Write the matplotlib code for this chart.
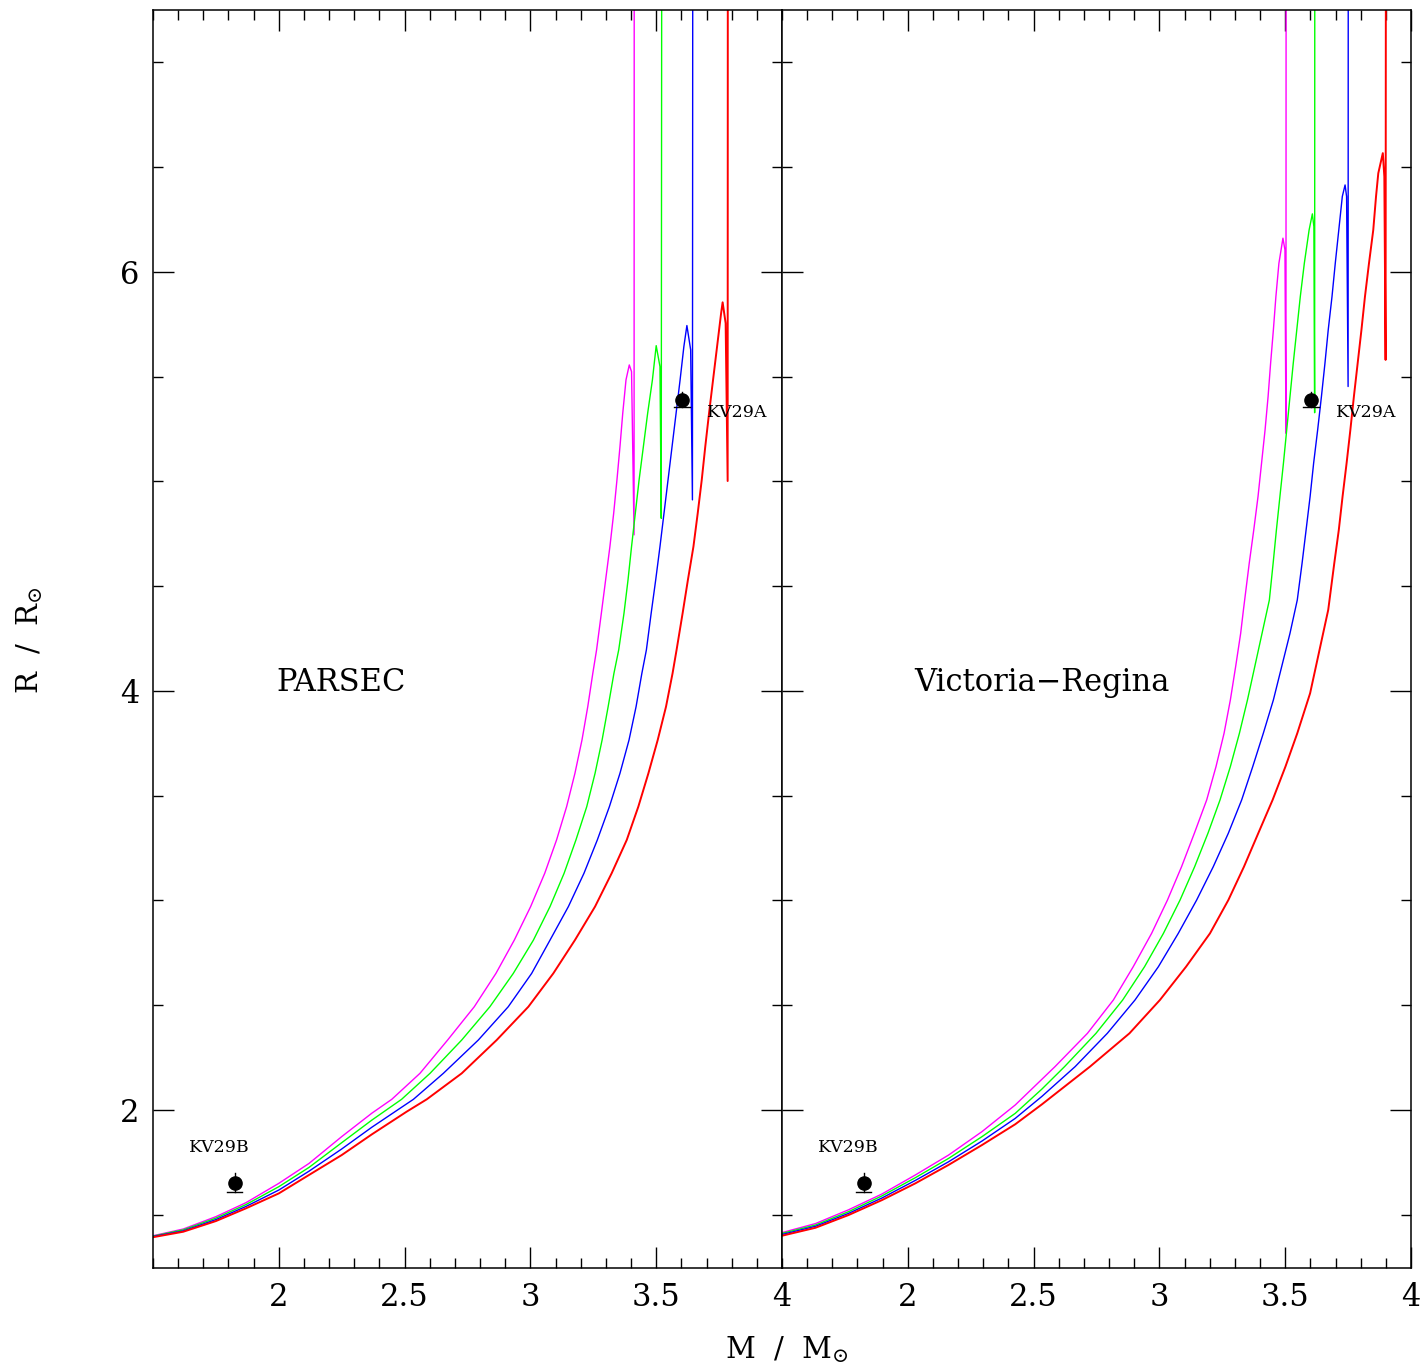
import matplotlib
matplotlib.use("Agg")
import matplotlib.pyplot as plt
from matplotlib.ticker import MultipleLocator, FixedLocator

plt.rcParams['font.family'] = ['DejaVu Serif', 'DejaVu Sans']
plt.rcParams['mathtext.fontset'] = 'dejavuserif'

# ---------------- data ----------------
TOP = 9.0  # giant-branch segments continue above the frame

# PARSEC isochrones (mass, radius)
par_mag_x = [1.50, 1.62, 1.75, 1.87, 2.00, 2.12, 2.25, 2.37,
             2.449, 2.561, 2.671, 2.777, 2.863, 2.936, 3.001, 3.057, 3.104, 3.144, 3.177, 3.205, 3.228, 3.248,
             3.263, 3.282, 3.299, 3.316, 3.331, 3.344, 3.356, 3.367, 3.380, 3.393,
             3.402, 3.412, 3.413]
par_mag_y = [1.400, 1.432, 1.491, 1.558, 1.650, 1.745, 1.873, 1.985,
             2.051, 2.175, 2.334, 2.493, 2.652, 2.811, 2.971, 3.130, 3.289, 3.448, 3.607, 3.766, 3.925, 4.084,
             4.196, 4.371, 4.530, 4.689, 4.848, 5.007, 5.166, 5.325, 5.485, 5.556,
             5.524, 4.745, TOP]
par_grn_x = [1.50, 1.62, 1.75, 1.87, 2.00, 2.12, 2.25, 2.37,
             2.488, 2.601, 2.727, 2.839, 2.932, 3.012, 3.078, 3.134, 3.181, 3.224, 3.257, 3.285, 3.309, 3.332,
             3.351, 3.372, 3.388, 3.402, 3.417, 3.432, 3.449, 3.466, 3.485, 3.500,
             3.515, 3.520, 3.523]
par_grn_y = [1.398, 1.428, 1.484, 1.549, 1.634, 1.726, 1.844, 1.952,
             2.051, 2.175, 2.334, 2.493, 2.652, 2.811, 2.971, 3.130, 3.289, 3.448, 3.607, 3.766, 3.925, 4.084,
             4.196, 4.371, 4.530, 4.689, 4.848, 5.007, 5.166, 5.325, 5.485, 5.648,
             5.548, 4.824, TOP]
par_blu_x = [1.50, 1.62, 1.75, 1.87, 2.00, 2.12, 2.25, 2.37,
             2.535, 2.654, 2.793, 2.912, 3.005, 3.078, 3.151, 3.213, 3.266, 3.314, 3.356, 3.392, 3.420, 3.443,
             3.461, 3.480, 3.498, 3.515, 3.531, 3.547, 3.563, 3.579, 3.595, 3.610, 3.622,
             3.637, 3.644, 3.646]
par_blu_y = [1.396, 1.423, 1.477, 1.540, 1.618, 1.708, 1.814, 1.918,
             2.051, 2.175, 2.334, 2.493, 2.652, 2.811, 2.971, 3.130, 3.289, 3.448, 3.607, 3.766, 3.925, 4.084,
             4.196, 4.371, 4.530, 4.689, 4.848, 5.007, 5.166, 5.325, 5.485, 5.644, 5.744,
             5.628, 4.912, TOP]
par_red_x = [1.50, 1.62, 1.75, 1.87, 2.00, 2.12, 2.25, 2.37, 2.508,
             2.588, 2.727, 2.866, 2.992, 3.091, 3.177, 3.257, 3.323, 3.383, 3.429, 3.469, 3.506, 3.539, 3.565,
             3.581, 3.605, 3.626, 3.648, 3.665, 3.681, 3.695, 3.710, 3.726, 3.742, 3.758, 3.764,
             3.776, 3.784, 3.785]
par_red_y = [1.393, 1.419, 1.470, 1.531, 1.602, 1.690, 1.785, 1.884, 1.992,
             2.051, 2.175, 2.334, 2.493, 2.652, 2.811, 2.971, 3.130, 3.289, 3.448, 3.607, 3.766, 3.925, 4.084,
             4.196, 4.371, 4.530, 4.689, 4.848, 5.007, 5.166, 5.325, 5.485, 5.644, 5.803, 5.855,
             5.755, 5.002, TOP]

# Victoria-Regina isochrones (mass, radius)
vr_mag_x = [1.500, 1.633, 1.765, 1.897, 2.030, 2.162, 2.295, 2.427,
            2.585, 2.714, 2.817, 2.896, 2.969, 3.032, 3.088, 3.139, 3.188, 3.225, 3.257, 3.282, 3.303, 3.323,
            3.334, 3.357, 3.375, 3.392, 3.406, 3.420, 3.432, 3.442, 3.453, 3.463, 3.475, 3.491,
            3.499, 3.503, 3.504]
vr_mag_y = [1.415, 1.458, 1.524, 1.599, 1.690, 1.785, 1.897, 2.024,
            2.207, 2.366, 2.525, 2.684, 2.843, 3.002, 3.161, 3.321, 3.480, 3.639, 3.798, 3.957, 4.116, 4.275,
            4.387, 4.609, 4.768, 4.928, 5.087, 5.246, 5.405, 5.564, 5.723, 5.882, 6.041, 6.161,
            6.105, 5.230, TOP]
vr_grn_x = [1.500, 1.633, 1.765, 1.897, 2.030, 2.162, 2.295, 2.427, 2.533,
            2.623, 2.748, 2.854, 2.941, 3.016, 3.082, 3.140, 3.193, 3.241, 3.282, 3.318, 3.350, 3.379, 3.408, 3.437,
            3.452, 3.465, 3.479, 3.493, 3.506, 3.519, 3.532, 3.546, 3.560, 3.576, 3.595, 3.608,
            3.614, 3.617, 3.618]
vr_grn_y = [1.411, 1.451, 1.515, 1.590, 1.677, 1.769, 1.873, 1.984, 2.100,
            2.207, 2.366, 2.525, 2.684, 2.843, 3.002, 3.161, 3.321, 3.480, 3.639, 3.798, 3.957, 4.116, 4.275, 4.434,
            4.609, 4.768, 4.928, 5.087, 5.246, 5.405, 5.564, 5.723, 5.882, 6.041, 6.200, 6.277,
            6.216, 5.328, TOP]
vr_blu_x = [1.500, 1.633, 1.765, 1.897, 2.030, 2.162, 2.295, 2.427, 2.533,
            2.665, 2.793, 2.903, 2.996, 3.075, 3.148, 3.214, 3.274, 3.327, 3.371, 3.413, 3.453, 3.486, 3.519, 3.548,
            3.567, 3.583, 3.599, 3.613, 3.629, 3.644, 3.658, 3.671, 3.686, 3.699, 3.713, 3.727, 3.738,
            3.744, 3.750, 3.751]
vr_blu_y = [1.406, 1.445, 1.507, 1.580, 1.664, 1.753, 1.852, 1.960, 2.065,
            2.207, 2.366, 2.525, 2.684, 2.843, 3.002, 3.161, 3.321, 3.480, 3.639, 3.798, 3.957, 4.116, 4.275, 4.434,
            4.609, 4.768, 4.928, 5.087, 5.246, 5.405, 5.564, 5.723, 5.882, 6.041, 6.200, 6.360, 6.415,
            6.360, 5.453, TOP]
vr_red_x = [1.500, 1.633, 1.765, 1.897, 2.030, 2.162, 2.295, 2.427, 2.533,
            2.724, 2.881, 3.002, 3.106, 3.201, 3.274, 3.336, 3.393, 3.450, 3.501, 3.548, 3.599,
            3.671, 3.695, 3.713, 3.728, 3.744, 3.759, 3.773, 3.788, 3.803, 3.817, 3.833, 3.850, 3.861, 3.870, 3.888,
            3.894, 3.899, 3.901]
vr_red_y = [1.400, 1.438, 1.499, 1.570, 1.650, 1.738, 1.833, 1.932, 2.027,
            2.207, 2.366, 2.525, 2.684, 2.843, 3.002, 3.161, 3.321, 3.480, 3.639, 3.798, 3.989,
            4.387, 4.609, 4.768, 4.928, 5.087, 5.246, 5.405, 5.564, 5.723, 5.882, 6.041, 6.200, 6.360, 6.471, 6.567,
            6.455, 5.580, TOP]

# binary components KV29A / KV29B
star_names = ["KV29A", "KV29B"]
star_mass = [3.603, 1.824]
star_mass_err = [0.033, 0.030]
star_radius = [5.390, 1.653]
star_radius_err = [0.037, 0.045]

panel_titles = ["PARSEC", "Victoria\u2212Regina"]
x_tick_values = [2, 2.5, 3, 3.5, 4]
x_tick_labels = ["2", "2.5", "3", "3.5", "4"]
y_tick_values = [2, 4, 6]
y_tick_labels = ["2", "4", "6"]

colors = ['#ff00ff', '#00ff00', '#0000ff', '#ff0000']
widths = [1.0, 1.0, 1.0, 1.4]

# ---------------- figure ----------------
W, H = 1423, 1372
fig = plt.figure(figsize=(W / 100, H / 100), dpi=100)
ax1 = fig.add_axes([153 / W, 104 / H, 629 / W, 1258 / H])
ax2 = fig.add_axes([782 / W, 104 / H, 629 / W, 1258 / H])

panels = [
    (ax1, [(par_mag_x, par_mag_y), (par_grn_x, par_grn_y), (par_blu_x, par_blu_y), (par_red_x, par_red_y)]),
    (ax2, [(vr_mag_x, vr_mag_y), (vr_grn_x, vr_grn_y), (vr_blu_x, vr_blu_y), (vr_red_x, vr_red_y)]),
]

title_x = [2.247, 2.535]
for i, (ax, curves) in enumerate(panels):
    for (cx, cy), c, lw in zip(curves, colors, widths):
        ax.plot(cx, cy, color=c, lw=lw)
    # data points with error bars
    for m, me, r, re_ in zip(star_mass, star_mass_err, star_radius, star_radius_err):
        ax.plot([m, m], [r - re_, r + re_], color='black', lw=1.0)
        ax.plot([m - me, m + me], [r - re_, r - re_], color='black', lw=1.0)
        ax.plot([m], [r], 'o', color='black', ms=9.5)
    ax.text(star_mass[0] + 0.10, star_radius[0] - 0.06, star_names[0], fontsize=12.5, va='center', ha='left')
    ax.text(star_mass[1] - 0.18, star_radius[1] + 0.17, star_names[1], fontsize=12.5, va='center', ha='left')
    ax.text(title_x[i], 4.04, panel_titles[i], fontsize=22, ha='center', va='center')

    ax.set_xlim(1.5, 4.0)
    ax.set_ylim(1.246, 7.25)
    ax.xaxis.set_major_locator(FixedLocator(x_tick_values))
    ax.xaxis.set_minor_locator(MultipleLocator(0.1))
    ax.yaxis.set_major_locator(FixedLocator(y_tick_values))
    ax.yaxis.set_minor_locator(MultipleLocator(0.5))
    ax.set_xticklabels(x_tick_labels)
    ax.tick_params(which='both', direction='in', top=True, right=True, bottom=True, left=True)
    ax.tick_params(which='major', length=15, width=1.0, labelsize=22, pad=10)
    ax.tick_params(which='minor', length=7.5, width=1.0)
    for s in ax.spines.values():
        s.set_linewidth(1.1)

ax1.set_yticklabels(y_tick_labels)
ax2.tick_params(labelleft=False)

fig.text(30 / W, 1 - 640 / H, r'R  /  R$_{\odot}$', rotation=90, fontsize=21, ha='center', va='center')
fig.text(787 / W, 1 - 1350 / H, r'M  /  M$_{\odot}$', fontsize=21, ha='center', va='center')

fig.savefig('out.png', dpi=100)
